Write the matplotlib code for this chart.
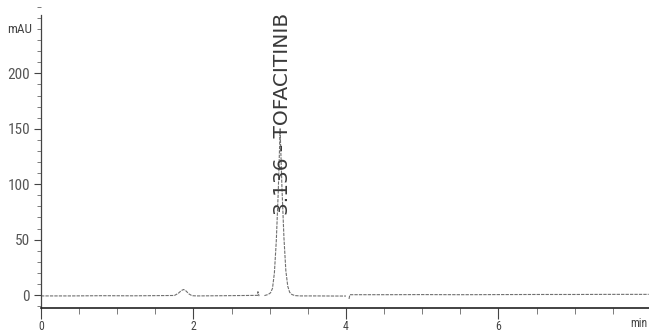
import matplotlib.pyplot as plt
from matplotlib.ticker import MultipleLocator
from matplotlib import font_manager

# chromatogram trace (min, mAU)
seg1_t = [0.0, 0.4, 0.8, 1.2, 1.6, 1.75, 1.80, 1.84, 1.87, 1.90, 1.94, 1.98, 2.05, 2.4, 2.7, 2.84, 2.845, 2.86]
seg1_y = [-0.8, -0.8, -0.6, -0.7, -0.5, -0.4, 1.5, 4.0, 5.0, 3.8, 1.0, -0.6, -0.8, -0.6, -0.4, -0.3, 3.0, -1.0]
seg2_t = [2.93, 2.98, 3.01, 3.036, 3.061, 3.086, 3.111, 3.136, 3.161, 3.186, 3.211, 3.236, 3.261, 3.29, 3.33, 3.4, 3.6, 3.85, 4.0]
seg2_y = [-0.5, 0.5, 2.0, 6.0, 20.0, 49.0, 92.0, 150.0, 95.0, 52.0, 22.0, 8.0, 2.5, 0.5, -0.5, -0.8, -0.8, -0.9, -0.9]
seg3_t = [4.04, 4.05, 4.06, 4.5, 5.0, 5.5, 6.0, 6.5, 7.0, 7.5, 7.97]
seg3_y = [-3.5, 0.3, 0.3, 0.3, 0.4, 0.3, 0.4, 0.5, 0.5, 0.6, 0.6]

peak_rt = 3.136
peak_label = "3.136 - TOFACITINIB"
x_ticks = [0, 2, 4, 6]
y_ticks = [0, 50, 100, 150, 200]

# pick a narrow face for the tick labels if one is around
names = {f.name for f in font_manager.fontManager.ttflist}
narrow = 'DejaVu Sans'
for cand in ['Liberation Sans Narrow', 'DejaVu Sans Condensed', 'Roboto Condensed', 'Liberation Sans']:
    if cand in names:
        narrow = cand
        break
plt.rcParams['font.family'] = [narrow, 'DejaVu Sans']

fig = plt.figure(figsize=(6.49, 3.32), dpi=100)
ax = fig.add_axes([41 / 649, 24 / 332, 608 / 649, 308 / 332])

trace_col = '#707070'
for t, y in [(seg1_t, seg1_y), (seg2_t, seg2_y), (seg3_t, seg3_y)]:
    ax.plot(t, y, color=trace_col, lw=0.8, ls=(0, (3, 1)))

ax.set_xlim(0, 7.974)
ax.set_ylim(-11.7, 266.2)

for s in ['top', 'right']:
    ax.spines[s].set_visible(False)
ax.spines['left'].set_bounds(-11.7, 253)
ax.spines['left'].set_color('#444444')
ax.spines['bottom'].set_color('#222222')
ax.spines['left'].set_linewidth(0.9)
ax.spines['bottom'].set_linewidth(1.2)

ax.set_xticks(x_ticks)
ax.set_xticklabels([str(v) for v in x_ticks])
ax.xaxis.set_minor_locator(MultipleLocator(0.5))
ax.set_yticks(y_ticks)
ax.set_yticklabels([str(v) for v in y_ticks])
ax.yaxis.set_minor_locator(MultipleLocator(10))

ax.tick_params(axis='x', which='major', length=8, width=0.8, color='#444444',
               labelsize=8.5, labelcolor='#444444', pad=1)
ax.tick_params(axis='x', which='minor', length=4, width=0.6, color='#666666')
ax.tick_params(axis='y', which='major', length=5, width=0.8, color='#444444',
               labelsize=11, labelcolor='#555555', pad=3)
ax.tick_params(axis='y', which='minor', length=3, width=0.6, color='#666666')

ax.text(-0.12, 240, "mAU", ha='right', va='center', fontsize=9.5, color='#444444')
fig.text(647 / 649, 2 / 332, "min", ha='right', va='bottom', fontsize=8.5, color='#444444')

ax.text(peak_rt + 0.03, 72, peak_label, rotation=90, ha='center', va='bottom',
        fontsize=14.5, color='#3a3a3a', family=['DejaVu Sans'])

fig.savefig('out.png', dpi=100)
